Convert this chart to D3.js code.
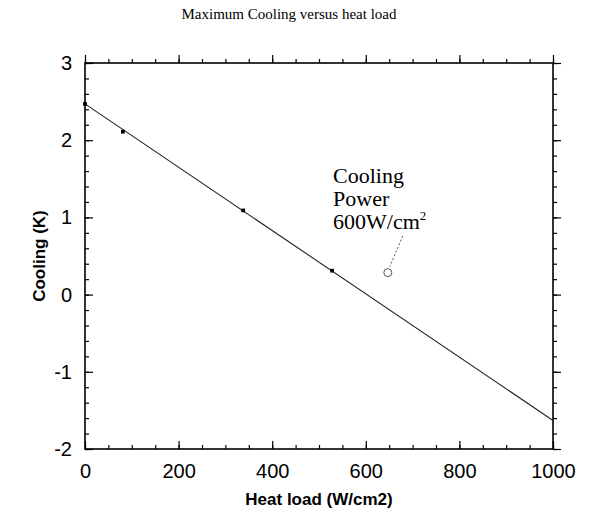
<!DOCTYPE html>
<html>
<head>
    <meta charset="utf-8" />
    <title>Maximum Cooling versus heat load</title>
    <style>
        body { margin: 0; background: #fff; }
        svg { display: block; }
        .title { font-family: "Liberation Serif", serif; font-size: 15px; }
        .axis path { display: none; }
        .axis line { stroke: #000; stroke-width: 1.2; }
        .axis text {
            font-family: "Liberation Sans", Arial, sans-serif;
            font-size: 20px;
            fill: #000;
        }
        .label {
            font-family: "Liberation Sans", Arial, sans-serif;
            font-weight: bold;
            font-size: 17px;
        }
        .note { font-family: "Liberation Serif", serif; font-size: 22px; }
    </style>
    <script src="https://d3js.org/d3.v7.min.js"></script>
</head>
<body>
<script>

// measured points (heat load W/cm2 -> cooling K)
let heatLoad = [0, 81, 338, 528];
let cooling = [2.47, 2.11, 1.09, 0.31];

// straight fit through them, drawn across the full range
let fitX = [0, 1000];
let fitY = [2.47, -1.63];

// the "600 W/cm2" marker and where its leader starts
let noteX = [647, 679];
let noteY = [0.285, 0.76];

let xTicks = [0, 200, 400, 600, 800, 1000];
let yTicks = [-2, -1, 0, 1, 2, 3];

let width = 590, height = 512;
let margin = { top: 63, right: 37, bottom: 63, left: 85 };
let w = width - margin.left - margin.right,
    h = height - margin.top - margin.bottom;

let svg = d3.select("body").append("svg")
    .attr("width", width)
    .attr("height", height);

svg.append("text")
    .attr("class", "title")
    .attr("x", 289)
    .attr("y", 19)
    .attr("text-anchor", "middle")
    .text("Maximum Cooling versus heat load");

let g = svg.append("g")
    .attr("transform", "translate(" + margin.left + "," + margin.top + ")");

let x = d3.scaleLinear().domain([0, 1000]).range([0, w]);
let y = d3.scaleLinear().domain([-2, 3]).range([h, 0]);

// ticks point inward on all four sides
function addAxis(axisFn, scale, values, size, labels, shift) {
    let ax = axisFn(scale)
        .tickValues(values)
        .tickSize(-size)
        .tickPadding(labels ? size + 10 : 0)
        .tickFormat(labels ? (d => String(d)) : "");
    g.append("g")
        .attr("class", "axis")
        .attr("transform", shift)
        .call(ax);
}

let xMinor = d3.range(0, 1001, 50);
let yMinor = d3.range(-2, 3.01, 0.2);

addAxis(d3.axisBottom, x, xMinor, 4, false, "translate(0," + h + ")");
addAxis(d3.axisBottom, x, xTicks, 8, true, "translate(0," + h + ")");
addAxis(d3.axisTop, x, xMinor, -4, false, "translate(0,0)");
addAxis(d3.axisTop, x, xTicks, -8, false, "translate(0,0)");
addAxis(d3.axisLeft, y, yMinor, 4, false, "translate(0,0)");
addAxis(d3.axisLeft, y, yTicks, 8, true, "translate(0,0)");
addAxis(d3.axisRight, y, yMinor, -4, false, "translate(" + w + ",0)");
addAxis(d3.axisRight, y, yTicks, -8, false, "translate(" + w + ",0)");

// tick label positions, pulled out to match the original
g.selectAll(".axis text").each(function() {
    let t = d3.select(this);
    if (t.attr("dy") === "0.71em") t.attr("y", 15);
    else t.attr("x", -13);
});

g.append("rect")
    .attr("width", w)
    .attr("height", h)
    .attr("fill", "none")
    .attr("stroke", "#000")
    .attr("stroke-width", 1.6);

// fit line
let line = d3.line()
    .x(d => x(d[0]))
    .y(d => y(d[1]));

g.append("path")
    .datum(d3.zip(fitX, fitY))
    .attr("d", line)
    .attr("fill", "none")
    .attr("stroke", "#222")
    .attr("stroke-width", 1.1);

g.selectAll(".pt")
    .data(d3.zip(heatLoad, cooling))
    .enter()
    .append("path")
    .attr("class", "pt")
    .attr("transform", d => "translate(" + x(d[0]) + "," + y(d[1]) + ")")
    .attr("d", d3.symbol(d3.symbolSquare, 14))
    .attr("fill", "#000");

// annotation
g.append("circle")
    .attr("cx", x(noteX[0]))
    .attr("cy", y(noteY[0]))
    .attr("r", 4)
    .attr("fill", "none")
    .attr("stroke", "#555")
    .attr("stroke-width", 1);

g.append("line")
    .attr("x1", x(noteX[1]))
    .attr("y1", y(noteY[1]))
    .attr("x2", x(noteX[0]) + 2)
    .attr("y2", y(noteY[0]) - 6)
    .attr("stroke", "#555")
    .attr("stroke-dasharray", "2,2");

let note = g.append("text")
    .attr("class", "note")
    .attr("x", x(530))
    .attr("y", y(1.45));
note.append("tspan").attr("x", x(530)).text("Cooling");
note.append("tspan").attr("x", x(530)).attr("dy", 23).text("Power");
note.append("tspan").attr("x", x(530)).attr("dy", 23).text("600W/cm");
note.append("tspan")
    .attr("dy", -9)
    .attr("font-size", "13px")
    .text("2");

// axis labels
svg.append("text")
    .attr("class", "label")
    .attr("x", margin.left + w / 2)
    .attr("y", 505)
    .attr("text-anchor", "middle")
    .text("Heat load (W/cm2)");

svg.append("text")
    .attr("class", "label")
    .attr("transform", "translate(45," + (margin.top + h / 2) + ") rotate(-90)")
    .attr("text-anchor", "middle")
    .text("Cooling (K)");

</script>
</body>
</html>
